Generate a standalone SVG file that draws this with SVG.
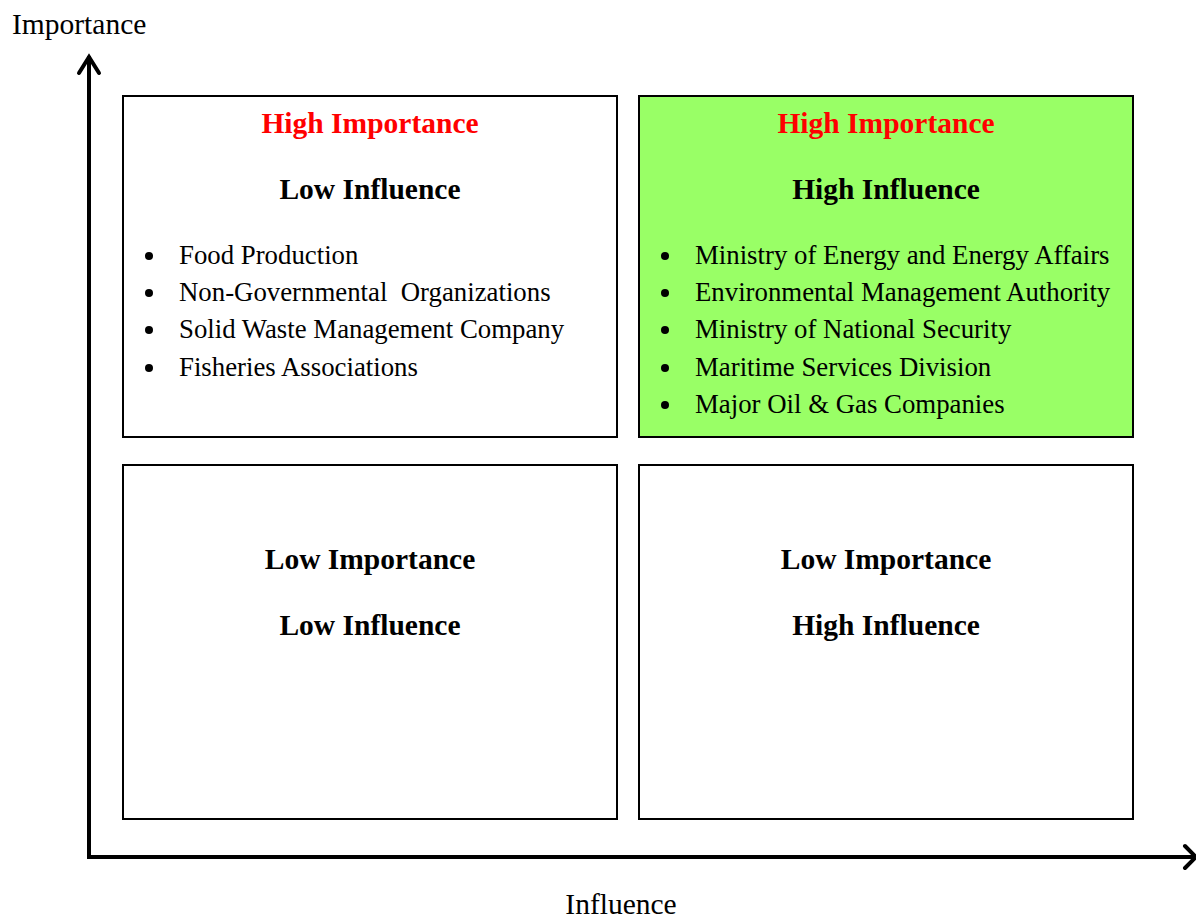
<svg xmlns="http://www.w3.org/2000/svg" width="1196" height="918" viewBox="0 0 1196 918">
  <style>
    .box { fill: #ffffff; stroke: #000000; stroke-width: 2; }
    .box.hot { fill: #99ff66; }
    .axis { fill: none; stroke: #000000; stroke-width: 4; stroke-linecap: square; }
    .head { fill: none; stroke: #000000; stroke-width: 4; stroke-linecap: round; stroke-linejoin: miter; }
    text { font-family: "Liberation Serif", "Times New Roman", serif; fill: #000000; }
    .axislabel { font-size: 29.5px; }
    .title { font-size: 29.5px; font-weight: bold; text-anchor: middle; }
    .red { fill: #ff0000; }
    .item { font-size: 26.8px; }
    .dot { fill: #000000; }
  </style>

  <!-- axes -->
  <g id="connectors">
    <path class="axis" d="M89 58 V857 H1192"/>
    <path class="head" d="M79 73 L89 57 L99 73"/>
    <path class="head" d="M1185 846 L1196 857 L1185 868"/>
  </g>
  <text class="axislabel" x="12" y="34">Importance</text>
  <text class="axislabel" x="621" y="914" text-anchor="middle">Influence</text>

  <!-- high importance / low influence -->
  <g id="q-high-imp-low-inf">
    <rect class="box" x="123" y="96" width="494" height="341"/>
    <text class="title red" x="370" y="133">High Importance</text>
    <text class="title" x="370" y="199">Low Influence</text>
    <circle class="dot" cx="149" cy="256" r="4"/>
    <circle class="dot" cx="149" cy="293" r="4"/>
    <circle class="dot" cx="149" cy="330" r="4"/>
    <circle class="dot" cx="149" cy="368" r="4"/>
    <text class="item" x="179" y="264">Food Production</text>
    <text class="item" x="179" y="301" xml:space="preserve">Non-Governmental  Organizations</text>
    <text class="item" x="179" y="338">Solid Waste Management Company</text>
    <text class="item" x="179" y="376">Fisheries Associations</text>
  </g>

  <!-- high importance / high influence -->
  <g id="q-high-imp-high-inf">
    <rect class="box hot" x="639" y="96" width="494" height="341"/>
    <text class="title red" x="886" y="133">High Importance</text>
    <text class="title" x="886" y="199">High Influence</text>
    <circle class="dot" cx="665" cy="256" r="4"/>
    <circle class="dot" cx="665" cy="293" r="4"/>
    <circle class="dot" cx="665" cy="330" r="4"/>
    <circle class="dot" cx="665" cy="368" r="4"/>
    <circle class="dot" cx="665" cy="405" r="4"/>
    <text class="item" x="695" y="264">Ministry of Energy and Energy Affairs</text>
    <text class="item" x="695" y="301">Environmental Management Authority</text>
    <text class="item" x="695" y="338">Ministry of National Security</text>
    <text class="item" x="695" y="376">Maritime Services Division</text>
    <text class="item" x="695" y="413">Major Oil &amp; Gas Companies</text>
  </g>

  <!-- low importance / low influence -->
  <g id="q-low-imp-low-inf">
    <rect class="box" x="123" y="465" width="494" height="354"/>
    <text class="title" x="370" y="569">Low Importance</text>
    <text class="title" x="370" y="635">Low Influence</text>
  </g>

  <!-- low importance / high influence -->
  <g id="q-low-imp-high-inf">
    <rect class="box" x="639" y="465" width="494" height="354"/>
    <text class="title" x="886" y="569">Low Importance</text>
    <text class="title" x="886" y="635">High Influence</text>
  </g>
</svg>
